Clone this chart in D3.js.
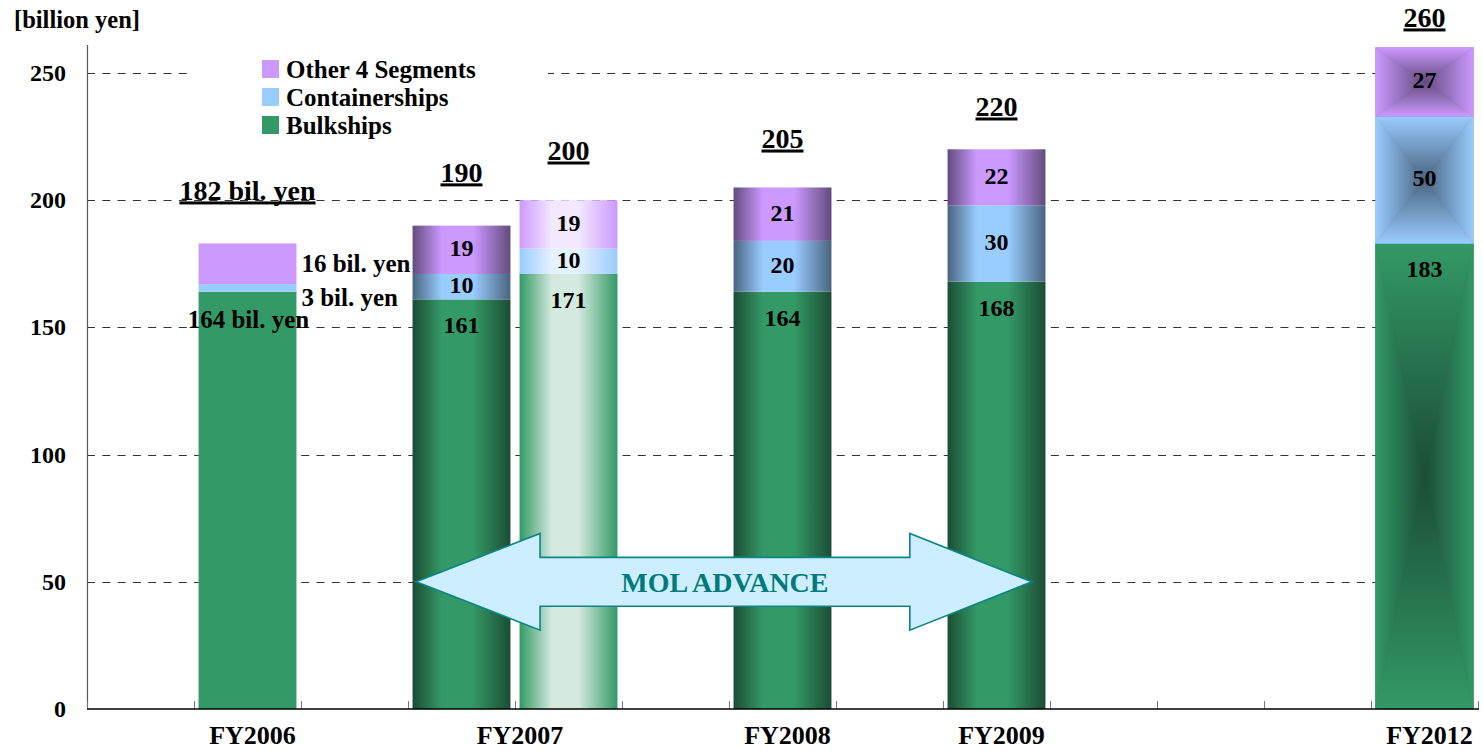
<!DOCTYPE html>
<html><head><meta charset="utf-8">
<script src="https://cdn.jsdelivr.net/npm/d3@7"></script>
<style>
html,body{margin:0;padding:0;background:#fff;}
svg{display:block;font-family:"Liberation Serif","Times New Roman",Times,serif;font-weight:bold;}
</style>
</head><body>
<svg id="chart" width="1483" height="751"></svg>
<script>
// ---------------- data ----------------
const slotCount = 13;
const barCategories = ["FY2006", "FY2007 (a)", "FY2007 (b)", "FY2008", "FY2009", "FY2012"];
const barSlot = [1, 3, 4, 6, 8, 12];
const bulkships = [164, 161, 171, 164, 168, 183];
const containerships = [3, 10, 10, 20, 30, 50];
const others = [16, 19, 19, 21, 22, 27];
const totalLabels = ["182 bil. yen", "190", "200", "205", "220", "260"];
const xLabels = ["FY2006", "FY2007", "FY2008", "FY2009", "FY2012"];
const xLabelSlot = [1.5, 4, 6.5, 8.5, 12.5];
const yTicks = [0, 50, 100, 150, 200, 250];
const seriesNames = ["Bulkships", "Containerships", "Other 4 Segments"];
const fy2006Notes = ["16 bil. yen", "3 bil. yen", "164 bil. yen"];
const arrowLabel = "MOL ADVANCE";
const unitLabel = "[billion yen]";

// ---------------- layout / style ----------------
const totalLabelValue = [200.1, 207.2, 215.8, 220.5, 233.1, 268.1];
const barStyle = ["flat", "metal", "glow", "metal", "metal", "rect"];
const baseColor = ["#339966", "#99ccff", "#cc99ff"];
const darkColor = ["#1b4d34", "#4a6480", "#634b7e"];
const lightColor = ["#d4eadf", "#e4f1ff", "#f3e8ff"];

const pL = 87, pR = 1478, pT = 45, pB = 709;

const svg = d3.select("#chart");
const defs = svg.append("defs");

const x = d3.scaleBand().domain(d3.range(slotCount)).range([pL, pR])
  .paddingInner(0.085).paddingOuter(0.0425);
const step = x.step();
const xPos = t => pL + t * step;           // continuous slot position
const y = d3.scaleLinear().domain([0, 261]).range([pB, pT]);

// stacked data
const rows = barCategories.map((c, i) => ({cat: c, i, s0: bulkships[i], s1: containerships[i], s2: others[i]}));
const stack = d3.stack().keys(["s0", "s1", "s2"])(rows);

// gradients
baseColor.forEach((b, k) => {
  const m = defs.append("linearGradient").attr("id", "metal" + k).attr("x1", 0).attr("x2", 1).attr("y1", 0).attr("y2", 0);
  [[0, darkColor[k]], [0.3, b], [0.62, b], [1, darkColor[k]]].forEach(s => m.append("stop").attr("offset", s[0]).attr("stop-color", s[1]));
  const g = defs.append("linearGradient").attr("id", "glow" + k).attr("x1", 0).attr("x2", 1).attr("y1", 0).attr("y2", 0);
  [[0, b], [0.33, lightColor[k]], [0.6, lightColor[k]], [1, b]].forEach(s => g.append("stop").attr("offset", s[0]).attr("stop-color", s[1]));
});

// gridlines
const grid = svg.append("g");
grid.selectAll("line").data(yTicks.filter(v => v > 0)).join("line")
  .attr("x1", pL).attr("x2", pR)
  .attr("y1", d => Math.round(y(d)) + 0.5).attr("y2", d => Math.round(y(d)) + 0.5)
  .attr("stroke", "#333").attr("stroke-width", 1).attr("stroke-dasharray", "8,7.3");

// legend background (hides gridline)
svg.append("rect").attr("x", 187).attr("y", 52).attr("width", 361).attr("height", 90).attr("fill", "#fff");

// bars
const barsG = svg.append("g");
let gid = 0;
stack.forEach((layer, k) => {
  layer.forEach((d, i) => {
    const x0 = x(barSlot[i]), w = x.bandwidth();
    const y0 = y(d[1]), h = y(d[0]) - y(d[1]);
    const st = barStyle[i];
    if (st === "rect") {
      const cx = x0 + w / 2, cy = y0 + h / 2;
      barsG.append("rect").attr("x", x0).attr("y", y0).attr("width", w).attr("height", h).attr("fill", darkColor[k]);
      const tris = [
        {pts: [[x0, y0], [x0 + w, y0], [cx, cy]], g: [cx, y0, cx, cy]},
        {pts: [[x0, y0 + h], [x0 + w, y0 + h], [cx, cy]], g: [cx, y0 + h, cx, cy]},
        {pts: [[x0, y0], [x0, y0 + h], [cx, cy]], g: [x0, cy, cx, cy]},
        {pts: [[x0 + w, y0], [x0 + w, y0 + h], [cx, cy]], g: [x0 + w, cy, cx, cy]}
      ];
      tris.forEach(t => {
        const id = "rg" + (gid++);
        const lg = defs.append("linearGradient").attr("id", id).attr("gradientUnits", "userSpaceOnUse")
          .attr("x1", t.g[0]).attr("y1", t.g[1]).attr("x2", t.g[2]).attr("y2", t.g[3]);
        lg.append("stop").attr("offset", 0).attr("stop-color", baseColor[k]);
        lg.append("stop").attr("offset", 1).attr("stop-color", darkColor[k]);
        barsG.append("polygon").attr("points", t.pts.map(p => p.join(",")).join(" "))
          .attr("fill", `url(#${id})`).attr("stroke", `url(#${id})`).attr("stroke-width", 0.6);
      });
    } else {
      const fill = st === "flat" ? baseColor[k] : `url(#${st}${k})`;
      barsG.append("rect").attr("x", x0).attr("y", y0).attr("width", w).attr("height", h).attr("fill", fill);
    }
  });
});

// axes
svg.append("line").attr("x1", pL + 0.5).attr("x2", pL + 0.5).attr("y1", pT).attr("y2", pB)
  .attr("stroke", "#555").attr("stroke-width", 1.2);
svg.append("g").selectAll("line").data(d3.range(slotCount + 1)).join("line")
  .attr("x1", d => xPos(d) + 0.5).attr("x2", d => xPos(d) + 0.5)
  .attr("y1", pB).attr("y2", pB - 8)
  .attr("stroke", "#777").attr("stroke-width", 1);
svg.append("line").attr("x1", pL).attr("x2", pR + 1).attr("y1", pB).attr("y2", pB)
  .attr("stroke", "#000").attr("stroke-width", 1.6);

// y tick labels
svg.append("g").selectAll("text").data(yTicks).join("text")
  .attr("x", 66).attr("y", d => y(d)).attr("dy", "0.33em")
  .attr("text-anchor", "end").attr("font-size", 24).attr("fill", "#000").text(d => d);

// unit label
svg.append("text").attr("x", 14).attr("y", 28).attr("font-size", 24.5).text(unitLabel);

// x labels
svg.append("g").selectAll("text").data(xLabels).join("text")
  .attr("x", (d, i) => xPos(xLabelSlot[i]) + 5).attr("y", 744)
  .attr("text-anchor", "middle").attr("font-size", 26).text(d => d);

// legend
const legendOrder = [2, 1, 0];
const lgG = svg.append("g");
legendOrder.forEach((k, r) => {
  lgG.append("rect").attr("x", 262).attr("y", 60 + r * 28).attr("width", 17).attr("height", 18).attr("fill", baseColor[k]);
  lgG.append("text").attr("x", 286).attr("y", 69 + r * 28).attr("dy", "0.34em").attr("font-size", 25).text(seriesNames[k]);
});

// segment value labels (not FY2006)
const lab = svg.append("g").attr("font-size", 24).attr("text-anchor", "middle").attr("fill", "#000");
rows.forEach((r, i) => {
  if (i === 0) return;
  const cx = x(barSlot[i]) + x.bandwidth() / 2;
  const vals = [bulkships[i], containerships[i], others[i]];
  lab.append("text").attr("x", cx).attr("y", y(bulkships[i]) + 34).text(vals[0]);
  lab.append("text").attr("x", cx).attr("y", y(bulkships[i] + containerships[i] / 2)).attr("dy", "0.27em").text(vals[1]);
  lab.append("text").attr("x", cx).attr("y", y(bulkships[i] + containerships[i] + others[i] / 2)).attr("dy", "0.27em").text(vals[2]);
});

// FY2006 notes
const n0x = x(barSlot[0]) + x.bandwidth() + 5;
svg.append("text").attr("x", n0x).attr("y", y(171.8)).attr("font-size", 25).text(fy2006Notes[0]);
svg.append("text").attr("x", n0x).attr("y", y(158.4)).attr("font-size", 25).text(fy2006Notes[1]);
svg.append("text").attr("x", x(barSlot[0]) + x.bandwidth() / 2 + 1).attr("y", y(149.8))
  .attr("text-anchor", "middle").attr("font-size", 25).text(fy2006Notes[2]);

// total labels with underline
rows.forEach((r, i) => {
  const cx = x(barSlot[i]) + x.bandwidth() / 2;
  const by = y(totalLabelValue[i]);
  const t = svg.append("text").attr("x", cx).attr("y", by).attr("text-anchor", "middle")
    .attr("font-size", 28).text(totalLabels[i]);
  const len = t.node().getComputedTextLength();
  svg.append("rect").attr("x", cx - len / 2).attr("y", by + 1.5).attr("width", len).attr("height", 3).attr("fill", "#000");
});

// MOL ADVANCE arrow
const aL = xPos(3.075), aLB = xPos(4.234), aRB = xPos(7.69), aR = xPos(8.83);
const yc = y(50), ys1 = y(50 + 9.6), ys2 = y(50 - 9.6), yh1 = y(50 + 19), yh2 = y(50 - 19);
const pts = [[aL, yc], [aLB, yh1], [aLB, ys1], [aRB, ys1], [aRB, yh1], [aR, yc], [aRB, yh2], [aRB, ys2], [aLB, ys2], [aLB, yh2]];
svg.append("polygon").attr("points", pts.map(p => p.join(",")).join(" "))
  .attr("fill", "#cceeff").attr("stroke", "#0b8585").attr("stroke-width", 1.6).attr("stroke-linejoin", "miter");
svg.append("text").attr("x", (aLB + aRB) / 2).attr("y", yc + 10).attr("text-anchor", "middle")
  .attr("font-size", 28).attr("fill", "#007a7a").text(arrowLabel);
</script>
</body></html>
